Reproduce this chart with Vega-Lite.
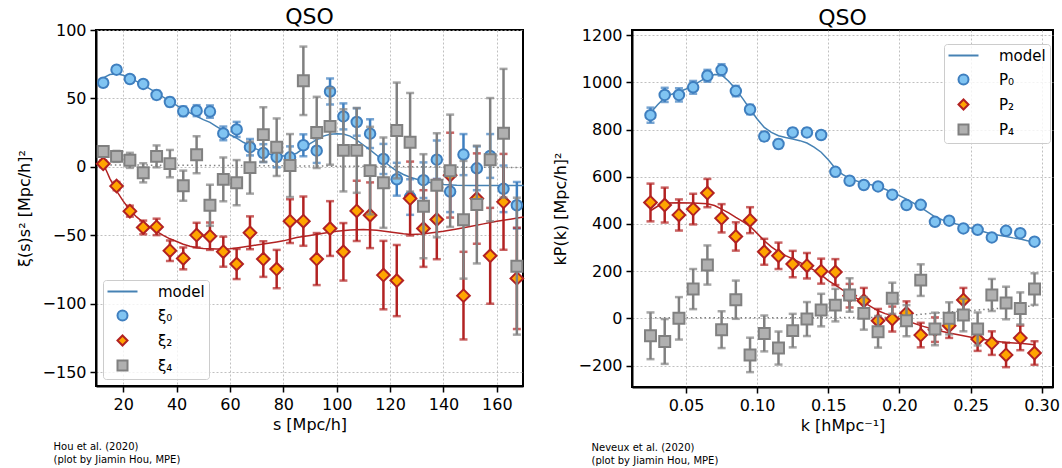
{
  "$schema": "https://vega.github.io/schema/vega-lite/v6.json",
  "padding": {"left": 15, "top": 5, "right": 5, "bottom": 5},
  "background": "white",
  "spacing": 22,
  "datasets": {
    "xi0": [
      {"s": 12.5, "v": 61.5, "e": 2.5, "series": "ξ₀"},
      {"s": 17.5, "v": 71, "e": 2.5, "series": "ξ₀"},
      {"s": 22.5, "v": 64.2, "e": 2.5, "series": "ξ₀"},
      {"s": 27.5, "v": 60.6, "e": 2.5, "series": "ξ₀"},
      {"s": 32.5, "v": 52.6, "e": 3, "series": "ξ₀"},
      {"s": 37.5, "v": 47.4, "e": 3, "series": "ξ₀"},
      {"s": 42.5, "v": 40.6, "e": 3.5, "series": "ξ₀"},
      {"s": 47.5, "v": 41.1, "e": 4, "series": "ξ₀"},
      {"s": 52.5, "v": 40.4, "e": 4.5, "series": "ξ₀"},
      {"s": 57.5, "v": 24.5, "e": 5, "series": "ξ₀"},
      {"s": 62.5, "v": 27.4, "e": 5.5, "series": "ξ₀"},
      {"s": 67.5, "v": 14.4, "e": 6, "series": "ξ₀"},
      {"s": 72.5, "v": 10.1, "e": 6.5, "series": "ξ₀"},
      {"s": 77.5, "v": 7.2, "e": 7.5, "series": "ξ₀"},
      {"s": 82.5, "v": 7, "e": 8, "series": "ξ₀"},
      {"s": 87.5, "v": 15.8, "e": 8, "series": "ξ₀"},
      {"s": 92.5, "v": 11.9, "e": 9, "series": "ξ₀"},
      {"s": 97.5, "v": 55.1, "e": 9.5, "series": "ξ₀"},
      {"s": 102.5, "v": 36.9, "e": 9.5, "series": "ξ₀"},
      {"s": 107.5, "v": 32.8, "e": 10, "series": "ξ₀"},
      {"s": 112.5, "v": 24.3, "e": 10.5, "series": "ξ₀"},
      {"s": 117.5, "v": 5.8, "e": 11, "series": "ξ₀"},
      {"s": 122.5, "v": -9, "e": 12, "series": "ξ₀"},
      {"s": 127.5, "v": -22, "e": 13, "series": "ξ₀"},
      {"s": 132.5, "v": -9.7, "e": 13, "series": "ξ₀"},
      {"s": 137.5, "v": 5.3, "e": 14, "series": "ξ₀"},
      {"s": 142.5, "v": -18, "e": 15, "series": "ξ₀"},
      {"s": 147.5, "v": 9, "e": 15, "series": "ξ₀"},
      {"s": 152.5, "v": -1, "e": 16, "series": "ξ₀"},
      {"s": 157.5, "v": 8, "e": 16, "series": "ξ₀"},
      {"s": 162.5, "v": -16, "e": 17, "series": "ξ₀"},
      {"s": 167.5, "v": -28, "e": 17, "series": "ξ₀"}
    ],
    "xi2": [
      {"s": 12.5, "v": 2.3, "e": 2.5, "series": "ξ₂"},
      {"s": 17.5, "v": -14, "e": 3, "series": "ξ₂"},
      {"s": 22.5, "v": -32.3, "e": 4, "series": "ξ₂"},
      {"s": 27.5, "v": -44.2, "e": 5, "series": "ξ₂"},
      {"s": 32.5, "v": -43.8, "e": 6, "series": "ξ₂"},
      {"s": 37.5, "v": -61.2, "e": 7.5, "series": "ξ₂"},
      {"s": 42.5, "v": -66.8, "e": 8, "series": "ξ₂"},
      {"s": 47.5, "v": -49.8, "e": 9, "series": "ξ₂"},
      {"s": 52.5, "v": -50.6, "e": 10, "series": "ξ₂"},
      {"s": 57.5, "v": -61.9, "e": 11, "series": "ξ₂"},
      {"s": 62.5, "v": -70.9, "e": 11, "series": "ξ₂"},
      {"s": 67.5, "v": -48.1, "e": 12, "series": "ξ₂"},
      {"s": 72.5, "v": -67.3, "e": 13, "series": "ξ₂"},
      {"s": 77.5, "v": -74.6, "e": 14, "series": "ξ₂"},
      {"s": 82.5, "v": -39.6, "e": 16, "series": "ξ₂"},
      {"s": 87.5, "v": -39.6, "e": 18, "series": "ξ₂"},
      {"s": 92.5, "v": -67.3, "e": 19, "series": "ξ₂"},
      {"s": 97.5, "v": -45, "e": 20, "series": "ξ₂"},
      {"s": 102.5, "v": -62, "e": 21, "series": "ξ₂"},
      {"s": 107.5, "v": -32.1, "e": 22, "series": "ξ₂"},
      {"s": 112.5, "v": -35.3, "e": 24, "series": "ξ₂"},
      {"s": 117.5, "v": -79, "e": 25, "series": "ξ₂"},
      {"s": 122.5, "v": -83, "e": 26, "series": "ξ₂"},
      {"s": 127.5, "v": -23.1, "e": 27, "series": "ξ₂"},
      {"s": 132.5, "v": -45, "e": 28, "series": "ξ₂"},
      {"s": 137.5, "v": -38.4, "e": 29, "series": "ξ₂"},
      {"s": 142.5, "v": -6, "e": 31, "series": "ξ₂"},
      {"s": 147.5, "v": -94, "e": 32, "series": "ξ₂"},
      {"s": 152.5, "v": -23.1, "e": 33, "series": "ξ₂"},
      {"s": 157.5, "v": -64.9, "e": 35, "series": "ξ₂"},
      {"s": 162.5, "v": -25.5, "e": 35, "series": "ξ₂"},
      {"s": 167.5, "v": -81.4, "e": 37, "series": "ξ₂"}
    ],
    "xi4": [
      {"s": 12.5, "v": 11.3, "e": 3, "series": "ξ₄"},
      {"s": 17.5, "v": 7.7, "e": 4, "series": "ξ₄"},
      {"s": 22.5, "v": 4.8, "e": 5.5, "series": "ξ₄"},
      {"s": 27.5, "v": -4.3, "e": 7, "series": "ξ₄"},
      {"s": 32.5, "v": 7.7, "e": 8, "series": "ξ₄"},
      {"s": 37.5, "v": 2.4, "e": 10, "series": "ξ₄"},
      {"s": 42.5, "v": -13.7, "e": 11, "series": "ξ₄"},
      {"s": 47.5, "v": 8.9, "e": 13.5, "series": "ξ₄"},
      {"s": 52.5, "v": -28, "e": 15, "series": "ξ₄"},
      {"s": 57.5, "v": -9.1, "e": 16, "series": "ξ₄"},
      {"s": 62.5, "v": -11.5, "e": 16.5, "series": "ξ₄"},
      {"s": 67.5, "v": -0.5, "e": 19, "series": "ξ₄"},
      {"s": 72.5, "v": 23.6, "e": 20, "series": "ξ₄"},
      {"s": 77.5, "v": 14.4, "e": 21, "series": "ξ₄"},
      {"s": 82.5, "v": 1, "e": 23, "series": "ξ₄"},
      {"s": 87.5, "v": 62.9, "e": 25, "series": "ξ₄"},
      {"s": 92.5, "v": 25.2, "e": 26, "series": "ξ₄"},
      {"s": 97.5, "v": 29.6, "e": 28, "series": "ξ₄"},
      {"s": 102.5, "v": 12.1, "e": 30, "series": "ξ₄"},
      {"s": 107.5, "v": 12.1, "e": 31, "series": "ξ₄"},
      {"s": 112.5, "v": -2.7, "e": 32, "series": "ξ₄"},
      {"s": 117.5, "v": -11.5, "e": 33, "series": "ξ₄"},
      {"s": 122.5, "v": 26.6, "e": 35, "series": "ξ₄"},
      {"s": 127.5, "v": 18, "e": 36, "series": "ξ₄"},
      {"s": 132.5, "v": -28.7, "e": 38, "series": "ξ₄"},
      {"s": 137.5, "v": -13.4, "e": 38, "series": "ξ₄"},
      {"s": 142.5, "v": -2.8, "e": 41, "series": "ξ₄"},
      {"s": 147.5, "v": -38.6, "e": 43, "series": "ξ₄"},
      {"s": 152.5, "v": -27.5, "e": 43, "series": "ξ₄"},
      {"s": 157.5, "v": 5.3, "e": 45, "series": "ξ₄"},
      {"s": 162.5, "v": 24.6, "e": 47, "series": "ξ₄"},
      {"s": 167.5, "v": -72.5, "e": 50, "series": "ξ₄"}
    ],
    "xi0model": [
      {"s": 12.5, "v": 65}, {"s": 15, "v": 67.5}, {"s": 17.5, "v": 68}, {"s": 20, "v": 67}, {"s": 22.5, "v": 65},
      {"s": 25, "v": 62.5}, {"s": 27.5, "v": 60}, {"s": 30, "v": 57}, {"s": 32.5, "v": 54}, {"s": 35, "v": 51},
      {"s": 37.5, "v": 48}, {"s": 40, "v": 45}, {"s": 42.5, "v": 42}, {"s": 45, "v": 39.5}, {"s": 47.5, "v": 37},
      {"s": 50, "v": 34.5}, {"s": 52.5, "v": 32.5}, {"s": 55, "v": 29.5}, {"s": 57.5, "v": 26.5}, {"s": 60, "v": 23.5},
      {"s": 62.5, "v": 21}, {"s": 65, "v": 18}, {"s": 67.5, "v": 15.5}, {"s": 70, "v": 13}, {"s": 72.5, "v": 10.8},
      {"s": 75, "v": 9.3}, {"s": 77.5, "v": 8.4}, {"s": 80, "v": 8}, {"s": 82.5, "v": 8.3}, {"s": 85, "v": 10},
      {"s": 87.5, "v": 13.5}, {"s": 90, "v": 17}, {"s": 92.5, "v": 20}, {"s": 95, "v": 22.5}, {"s": 97.5, "v": 23.8},
      {"s": 100, "v": 24.3}, {"s": 102.5, "v": 24}, {"s": 105, "v": 22.5}, {"s": 107.5, "v": 19.5}, {"s": 110, "v": 16},
      {"s": 112.5, "v": 12.5}, {"s": 115, "v": 8.5}, {"s": 117.5, "v": 4.5}, {"s": 120, "v": 0.5}, {"s": 122.5, "v": -3},
      {"s": 125, "v": -5.5}, {"s": 127.5, "v": -7.5}, {"s": 130, "v": -9}, {"s": 132.5, "v": -10.4}, {"s": 135, "v": -11.4},
      {"s": 137.5, "v": -12.2}, {"s": 140, "v": -12.8}, {"s": 145, "v": -13.3}, {"s": 150, "v": -13.5}, {"s": 160, "v": -13.6},
      {"s": 170, "v": -13.6}
    ],
    "xi2model": [
      {"s": 12.5, "v": 2}, {"s": 13.75, "v": -3}, {"s": 15, "v": -8.5}, {"s": 16.25, "v": -13}, {"s": 17.5, "v": -17.5},
      {"s": 20, "v": -25}, {"s": 22.5, "v": -31.5}, {"s": 25, "v": -36.5}, {"s": 27.5, "v": -40.5}, {"s": 30, "v": -44},
      {"s": 32.5, "v": -47}, {"s": 35, "v": -50}, {"s": 37.5, "v": -52.5}, {"s": 40, "v": -54.5}, {"s": 42.5, "v": -56.5},
      {"s": 45, "v": -58}, {"s": 47.5, "v": -59}, {"s": 50, "v": -59.5}, {"s": 52.5, "v": -59.7}, {"s": 55, "v": -60},
      {"s": 57.5, "v": -60}, {"s": 60, "v": -59.8}, {"s": 62.5, "v": -59.2}, {"s": 65, "v": -58.5}, {"s": 67.5, "v": -57.8},
      {"s": 70, "v": -57}, {"s": 72.5, "v": -56.3}, {"s": 75, "v": -55.5}, {"s": 77.5, "v": -54.8}, {"s": 80, "v": -54},
      {"s": 85, "v": -51.5}, {"s": 90, "v": -50}, {"s": 95, "v": -48.5}, {"s": 100, "v": -47}, {"s": 105, "v": -46},
      {"s": 110, "v": -45.7}, {"s": 115, "v": -46.3}, {"s": 120, "v": -47.5}, {"s": 125, "v": -48.8}, {"s": 128, "v": -49.3},
      {"s": 132, "v": -49}, {"s": 135, "v": -48.3}, {"s": 140, "v": -47}, {"s": 145, "v": -45.3}, {"s": 150, "v": -43.5},
      {"s": 155, "v": -41.6}, {"s": 160, "v": -39.7}, {"s": 165, "v": -38.2}, {"s": 170, "v": -36.5}
    ],
    "xi4model": [
      {"s": 13.5, "v": 1.5}, {"s": 40, "v": 1.2}, {"s": 80, "v": 0.8}, {"s": 120, "v": 0.3}, {"s": 170, "v": -0.5}
    ],
    "p0": [
      {"k": 0.025, "v": 861, "e": 32, "series": "P₀"},
      {"k": 0.035, "v": 947, "e": 30, "series": "P₀"},
      {"k": 0.045, "v": 947, "e": 28, "series": "P₀"},
      {"k": 0.055, "v": 979, "e": 27, "series": "P₀"},
      {"k": 0.065, "v": 1028, "e": 25, "series": "P₀"},
      {"k": 0.075, "v": 1053, "e": 24, "series": "P₀"},
      {"k": 0.085, "v": 963, "e": 22, "series": "P₀"},
      {"k": 0.095, "v": 885, "e": 20, "series": "P₀"},
      {"k": 0.105, "v": 771, "e": 18, "series": "P₀"},
      {"k": 0.115, "v": 739, "e": 17, "series": "P₀"},
      {"k": 0.125, "v": 788, "e": 16, "series": "P₀"},
      {"k": 0.135, "v": 788, "e": 16, "series": "P₀"},
      {"k": 0.145, "v": 777, "e": 15, "series": "P₀"},
      {"k": 0.155, "v": 621, "e": 14, "series": "P₀"},
      {"k": 0.165, "v": 583, "e": 14, "series": "P₀"},
      {"k": 0.175, "v": 565, "e": 13, "series": "P₀"},
      {"k": 0.185, "v": 559, "e": 13, "series": "P₀"},
      {"k": 0.195, "v": 524, "e": 12, "series": "P₀"},
      {"k": 0.205, "v": 480, "e": 12, "series": "P₀"},
      {"k": 0.215, "v": 481, "e": 12, "series": "P₀"},
      {"k": 0.225, "v": 409, "e": 11, "series": "P₀"},
      {"k": 0.235, "v": 414, "e": 11, "series": "P₀"},
      {"k": 0.245, "v": 381, "e": 11, "series": "P₀"},
      {"k": 0.255, "v": 375, "e": 10, "series": "P₀"},
      {"k": 0.265, "v": 343, "e": 10, "series": "P₀"},
      {"k": 0.275, "v": 371, "e": 10, "series": "P₀"},
      {"k": 0.285, "v": 361, "e": 10, "series": "P₀"},
      {"k": 0.295, "v": 325, "e": 10, "series": "P₀"}
    ],
    "p2": [
      {"k": 0.025, "v": 491, "e": 80, "series": "P₂"},
      {"k": 0.035, "v": 480, "e": 74, "series": "P₂"},
      {"k": 0.045, "v": 438, "e": 66, "series": "P₂"},
      {"k": 0.055, "v": 463, "e": 65, "series": "P₂"},
      {"k": 0.065, "v": 531, "e": 60, "series": "P₂"},
      {"k": 0.075, "v": 424, "e": 60, "series": "P₂"},
      {"k": 0.085, "v": 347, "e": 60, "series": "P₂"},
      {"k": 0.095, "v": 416, "e": 55, "series": "P₂"},
      {"k": 0.105, "v": 282, "e": 55, "series": "P₂"},
      {"k": 0.115, "v": 265, "e": 56, "series": "P₂"},
      {"k": 0.125, "v": 230, "e": 56, "series": "P₂"},
      {"k": 0.135, "v": 223, "e": 54, "series": "P₂"},
      {"k": 0.145, "v": 200, "e": 53, "series": "P₂"},
      {"k": 0.155, "v": 196, "e": 55, "series": "P₂"},
      {"k": 0.165, "v": 96, "e": 50, "series": "P₂"},
      {"k": 0.175, "v": 75, "e": 54, "series": "P₂"},
      {"k": 0.185, "v": -10, "e": 50, "series": "P₂"},
      {"k": 0.195, "v": -3, "e": 53, "series": "P₂"},
      {"k": 0.205, "v": 22, "e": 50, "series": "P₂"},
      {"k": 0.215, "v": -71, "e": 52, "series": "P₂"},
      {"k": 0.225, "v": -48, "e": 52, "series": "P₂"},
      {"k": 0.235, "v": -31, "e": 52, "series": "P₂"},
      {"k": 0.245, "v": 78, "e": 51, "series": "P₂"},
      {"k": 0.255, "v": -88, "e": 50, "series": "P₂"},
      {"k": 0.265, "v": -105, "e": 50, "series": "P₂"},
      {"k": 0.275, "v": -155, "e": 52, "series": "P₂"},
      {"k": 0.285, "v": -83, "e": 52, "series": "P₂"},
      {"k": 0.295, "v": -147, "e": 50, "series": "P₂"}
    ],
    "p4": [
      {"k": 0.025, "v": -74, "e": 99, "series": "P₄"},
      {"k": 0.035, "v": -98, "e": 95, "series": "P₄"},
      {"k": 0.045, "v": 0, "e": 90, "series": "P₄"},
      {"k": 0.055, "v": 124, "e": 85, "series": "P₄"},
      {"k": 0.065, "v": 226, "e": 83, "series": "P₄"},
      {"k": 0.075, "v": -48, "e": 78, "series": "P₄"},
      {"k": 0.085, "v": 79, "e": 81, "series": "P₄"},
      {"k": 0.095, "v": -155, "e": 73, "series": "P₄"},
      {"k": 0.105, "v": -64, "e": 76, "series": "P₄"},
      {"k": 0.115, "v": -126, "e": 70, "series": "P₄"},
      {"k": 0.125, "v": -52, "e": 71, "series": "P₄"},
      {"k": 0.135, "v": -3, "e": 72, "series": "P₄"},
      {"k": 0.145, "v": 35, "e": 69, "series": "P₄"},
      {"k": 0.155, "v": 56, "e": 69, "series": "P₄"},
      {"k": 0.165, "v": 99, "e": 71, "series": "P₄"},
      {"k": 0.175, "v": 21, "e": 69, "series": "P₄"},
      {"k": 0.185, "v": -57, "e": 67, "series": "P₄"},
      {"k": 0.195, "v": 85, "e": 66, "series": "P₄"},
      {"k": 0.205, "v": -10, "e": 66, "series": "P₄"},
      {"k": 0.215, "v": 162, "e": 67, "series": "P₄"},
      {"k": 0.225, "v": -45, "e": 69, "series": "P₄"},
      {"k": 0.235, "v": 0, "e": 68, "series": "P₄"},
      {"k": 0.245, "v": 14, "e": 69, "series": "P₄"},
      {"k": 0.255, "v": -45, "e": 70, "series": "P₄"},
      {"k": 0.265, "v": 99, "e": 68, "series": "P₄"},
      {"k": 0.275, "v": 65, "e": 69, "series": "P₄"},
      {"k": 0.285, "v": 42, "e": 68, "series": "P₄"},
      {"k": 0.295, "v": 124, "e": 67, "series": "P₄"}
    ],
    "p0model": [
      {"k": 0.025, "v": 870}, {"k": 0.03, "v": 905}, {"k": 0.035, "v": 935}, {"k": 0.04, "v": 950}, {"k": 0.045, "v": 960},
      {"k": 0.05, "v": 972}, {"k": 0.055, "v": 986}, {"k": 0.06, "v": 1005}, {"k": 0.065, "v": 1022}, {"k": 0.07, "v": 1033},
      {"k": 0.075, "v": 1032}, {"k": 0.08, "v": 1005}, {"k": 0.085, "v": 971}, {"k": 0.09, "v": 930}, {"k": 0.095, "v": 886},
      {"k": 0.1, "v": 845}, {"k": 0.105, "v": 809}, {"k": 0.11, "v": 788}, {"k": 0.115, "v": 774}, {"k": 0.12, "v": 766},
      {"k": 0.125, "v": 760}, {"k": 0.13, "v": 753}, {"k": 0.135, "v": 743}, {"k": 0.14, "v": 726}, {"k": 0.145, "v": 704},
      {"k": 0.15, "v": 672}, {"k": 0.155, "v": 635}, {"k": 0.16, "v": 610}, {"k": 0.165, "v": 593}, {"k": 0.17, "v": 582},
      {"k": 0.175, "v": 573}, {"k": 0.18, "v": 566}, {"k": 0.185, "v": 559}, {"k": 0.19, "v": 547}, {"k": 0.195, "v": 534},
      {"k": 0.2, "v": 520}, {"k": 0.205, "v": 505}, {"k": 0.21, "v": 488}, {"k": 0.215, "v": 470}, {"k": 0.22, "v": 450},
      {"k": 0.225, "v": 430}, {"k": 0.23, "v": 418}, {"k": 0.235, "v": 409}, {"k": 0.24, "v": 400}, {"k": 0.245, "v": 392},
      {"k": 0.25, "v": 383}, {"k": 0.255, "v": 375}, {"k": 0.26, "v": 366}, {"k": 0.265, "v": 357}, {"k": 0.27, "v": 352},
      {"k": 0.275, "v": 347}, {"k": 0.28, "v": 341}, {"k": 0.285, "v": 336}, {"k": 0.29, "v": 329}, {"k": 0.295, "v": 322}
    ],
    "p2model": [
      {"k": 0.025, "v": 456}, {"k": 0.03, "v": 475}, {"k": 0.035, "v": 489}, {"k": 0.045, "v": 490}, {"k": 0.055, "v": 489},
      {"k": 0.065, "v": 486}, {"k": 0.07, "v": 478}, {"k": 0.075, "v": 463}, {"k": 0.08, "v": 447}, {"k": 0.085, "v": 428},
      {"k": 0.09, "v": 410}, {"k": 0.095, "v": 390}, {"k": 0.1, "v": 360}, {"k": 0.105, "v": 329}, {"k": 0.11, "v": 303},
      {"k": 0.115, "v": 282}, {"k": 0.12, "v": 266}, {"k": 0.125, "v": 252}, {"k": 0.13, "v": 237}, {"k": 0.135, "v": 221},
      {"k": 0.14, "v": 204}, {"k": 0.145, "v": 184}, {"k": 0.15, "v": 160}, {"k": 0.155, "v": 141}, {"k": 0.16, "v": 121},
      {"k": 0.165, "v": 103}, {"k": 0.17, "v": 85}, {"k": 0.175, "v": 68}, {"k": 0.18, "v": 50}, {"k": 0.185, "v": 32},
      {"k": 0.19, "v": 20}, {"k": 0.195, "v": 11}, {"k": 0.2, "v": 0}, {"k": 0.205, "v": -10}, {"k": 0.215, "v": -31},
      {"k": 0.225, "v": -48}, {"k": 0.235, "v": -62}, {"k": 0.245, "v": -74}, {"k": 0.255, "v": -85}, {"k": 0.265, "v": -95},
      {"k": 0.275, "v": -102}, {"k": 0.285, "v": -106}, {"k": 0.295, "v": -112}
    ],
    "p4model": [
      {"k": 0.025, "v": 3}, {"k": 0.1, "v": 3}, {"k": 0.15, "v": 3}, {"k": 0.19, "v": 4}, {"k": 0.2, "v": 8},
      {"k": 0.21, "v": 14}, {"k": 0.22, "v": 20}, {"k": 0.245, "v": 31}, {"k": 0.27, "v": 42}, {"k": 0.295, "v": 53}
    ]
  },
  "hconcat": [
    {
      "width": 427,
      "height": 356,
      "title": {"text": "QSO", "offset": -7},
      "resolve": {"axis": {"x": "independent"}},
      "layer": [
        {
          "data": {"name": "xi4model"},
          "mark": {"type": "line", "color": "#808080", "strokeDash": [1.5, 3], "strokeWidth": 1.5},
          "encoding": {
            "x": {"field": "s", "type": "quantitative", "scale": {"domain": [9.8, 169.8], "nice": false, "zero": false},
              "axis": {"orient": "bottom", "title": ["Hou et al. (2020)", "(plot by Jiamin Hou, MPE)"], "labels": false, "ticks": false, "domain": false, "grid": false,
                "titleX": -43, "titleY": 55, "titleAlign": "left", "titleBaseline": "top", "titleAngle": 0, "titleFontSize": 10, "titleLineHeight": 13}},
            "y": {"field": "v", "type": "quantitative", "scale": {"domain": [-160, 100], "nice": false, "zero": false},
              "axis": {"title": "ξ(s)s² [Mpc/h]²", "values": [-150, -100, -50, 0, 50, 100], "titlePadding": 10, "grid": true}}
          }
        },
        {
          "encoding": {
            "x": {"field": "s", "type": "quantitative", "scale": {"domain": [9.8, 169.8], "nice": false, "zero": false},
              "axis": {"orient": "bottom", "title": "s [Mpc/h]", "values": [20, 40, 60, 80, 100, 120, 140, 160], "titlePadding": 4, "grid": true}},
            "y": {"field": "v", "type": "quantitative", "scale": {"domain": [-160, 100], "nice": false, "zero": false},
              "axis": {"title": "ξ(s)s² [Mpc/h]²", "values": [-150, -100, -50, 0, 50, 100], "titlePadding": 10, "grid": true}}
          },
          "layer": [
            {"data": {"name": "xi0model"}, "mark": {"type": "line", "color": "#4682b4", "strokeWidth": 1.5}},
            {"data": {"name": "xi2model"}, "mark": {"type": "line", "color": "#b22222", "strokeWidth": 1.5}},
            {"data": {"name": "xi0"}, "mark": {"type": "errorbar", "color": "#3f7fbf", "thickness": 2.5, "ticks": {"size": 8, "thickness": 2.5, "color": "#3f7fbf"}}, "encoding": {"yError": {"field": "e"}}},
            {"data": {"name": "xi0"}, "mark": {"type": "point", "opacity": 1, "strokeWidth": 2, "size": 110},
              "encoding": {
                "shape": {"field": "series", "type": "nominal", "scale": {"domain": ["model", "ξ₀", "ξ₂", "ξ₄"], "range": ["M-3,0H3", "circle", "diamond", "square"]}, "legend": {"orient": "bottom-left", "title": null}},
                "fill": {"field": "series", "type": "nominal", "scale": {"domain": ["model", "ξ₀", "ξ₂", "ξ₄"], "range": ["transparent", "#80c4f2", "#ffa500", "#b0b0b0"]}, "legend": {"title": null}},
                "stroke": {"field": "series", "type": "nominal", "scale": {"domain": ["model", "ξ₀", "ξ₂", "ξ₄"], "range": ["#4682b4", "#3f7fbf", "#b22222", "#808080"]}, "legend": {"title": null}}
              }},
            {"data": {"name": "xi2"}, "mark": {"type": "errorbar", "color": "#b22222", "thickness": 2.5, "ticks": {"size": 8, "thickness": 2.5, "color": "#b22222"}}, "encoding": {"yError": {"field": "e"}}},
            {"data": {"name": "xi2"}, "mark": {"type": "point", "opacity": 1, "strokeWidth": 2, "size": 160},
              "encoding": {
                "shape": {"field": "series", "type": "nominal", "scale": {"domain": ["model", "ξ₀", "ξ₂", "ξ₄"], "range": ["M-3,0H3", "circle", "diamond", "square"]}, "legend": {"orient": "bottom-left", "title": null}},
                "fill": {"field": "series", "type": "nominal", "scale": {"domain": ["model", "ξ₀", "ξ₂", "ξ₄"], "range": ["transparent", "#80c4f2", "#ffa500", "#b0b0b0"]}, "legend": {"title": null}},
                "stroke": {"field": "series", "type": "nominal", "scale": {"domain": ["model", "ξ₀", "ξ₂", "ξ₄"], "range": ["#4682b4", "#3f7fbf", "#b22222", "#808080"]}, "legend": {"title": null}}
              }},
            {"data": {"name": "xi4"}, "mark": {"type": "errorbar", "color": "#808080", "thickness": 2.5, "ticks": {"size": 8, "thickness": 2.5, "color": "#808080"}}, "encoding": {"yError": {"field": "e"}}},
            {"data": {"name": "xi4"}, "mark": {"type": "point", "opacity": 1, "strokeWidth": 2, "size": 120},
              "encoding": {
                "shape": {"field": "series", "type": "nominal", "scale": {"domain": ["model", "ξ₀", "ξ₂", "ξ₄"], "range": ["M-3,0H3", "circle", "diamond", "square"]}, "legend": {"orient": "bottom-left", "title": null}},
                "fill": {"field": "series", "type": "nominal", "scale": {"domain": ["model", "ξ₀", "ξ₂", "ξ₄"], "range": ["transparent", "#80c4f2", "#ffa500", "#b0b0b0"]}, "legend": {"title": null}},
                "stroke": {"field": "series", "type": "nominal", "scale": {"domain": ["model", "ξ₀", "ξ₂", "ξ₄"], "range": ["#4682b4", "#3f7fbf", "#b22222", "#808080"]}, "legend": {"title": null}}
              }}
          ]
        }
      ]
    },
    {
      "width": 421,
      "height": 357,
      "title": {"text": "QSO", "offset": -3},
      "resolve": {"axis": {"x": "independent"}},
      "layer": [
        {
          "data": {"name": "p4model"},
          "mark": {"type": "line", "color": "#808080", "strokeDash": [1.5, 3], "strokeWidth": 1.5},
          "encoding": {
            "x": {"field": "k", "type": "quantitative", "scale": {"domain": [0.012, 0.308], "nice": false, "zero": false},
              "axis": {"orient": "bottom", "title": ["Neveux et al. (2020)", "(plot by Jiamin Hou, MPE)"], "labels": false, "ticks": false, "domain": false, "grid": false,
                "titleX": -41, "titleY": 55, "titleAlign": "left", "titleBaseline": "top", "titleAngle": 0, "titleFontSize": 10, "titleLineHeight": 13}},
            "y": {"field": "v", "type": "quantitative", "scale": {"domain": [-291, 1222], "nice": false, "zero": false},
              "axis": {"title": "kP(k) [Mpc/h]²", "values": [-200, 0, 200, 400, 600, 800, 1000, 1200], "format": "d", "titlePadding": 10, "grid": true}}
          }
        },
        {
          "encoding": {
            "x": {"field": "k", "type": "quantitative", "scale": {"domain": [0.012, 0.308], "nice": false, "zero": false},
              "axis": {"orient": "bottom", "title": "k [hMpc⁻¹]", "values": [0.05, 0.1, 0.15, 0.2, 0.25, 0.3], "format": ".2f", "titlePadding": 4, "grid": true}},
            "y": {"field": "v", "type": "quantitative", "scale": {"domain": [-291, 1222], "nice": false, "zero": false},
              "axis": {"title": "kP(k) [Mpc/h]²", "values": [-200, 0, 200, 400, 600, 800, 1000, 1200], "format": "d", "titlePadding": 10, "grid": true}}
          },
          "layer": [
            {"data": {"name": "p0model"}, "mark": {"type": "line", "color": "#4682b4", "strokeWidth": 1.5}},
            {"data": {"name": "p2model"}, "mark": {"type": "line", "color": "#b22222", "strokeWidth": 1.5}},
            {"data": {"name": "p0"}, "mark": {"type": "errorbar", "color": "#3f7fbf", "thickness": 2.5, "ticks": {"size": 8, "thickness": 2.5, "color": "#3f7fbf"}}, "encoding": {"yError": {"field": "e"}}},
            {"data": {"name": "p0"}, "mark": {"type": "point", "opacity": 1, "strokeWidth": 2, "size": 110},
              "encoding": {
                "shape": {"field": "series", "type": "nominal", "scale": {"domain": ["model", "P₀", "P₂", "P₄"], "range": ["M-3,0H3", "circle", "diamond", "square"]}, "legend": {"orient": "none", "legendX": 312, "legendY": 14, "title": null}},
                "fill": {"field": "series", "type": "nominal", "scale": {"domain": ["model", "P₀", "P₂", "P₄"], "range": ["transparent", "#80c4f2", "#ffa500", "#b0b0b0"]}, "legend": {"title": null}},
                "stroke": {"field": "series", "type": "nominal", "scale": {"domain": ["model", "P₀", "P₂", "P₄"], "range": ["#4682b4", "#3f7fbf", "#b22222", "#808080"]}, "legend": {"title": null}}
              }},
            {"data": {"name": "p2"}, "mark": {"type": "errorbar", "color": "#b22222", "thickness": 2.5, "ticks": {"size": 8, "thickness": 2.5, "color": "#b22222"}}, "encoding": {"yError": {"field": "e"}}},
            {"data": {"name": "p2"}, "mark": {"type": "point", "opacity": 1, "strokeWidth": 2, "size": 160},
              "encoding": {
                "shape": {"field": "series", "type": "nominal", "scale": {"domain": ["model", "P₀", "P₂", "P₄"], "range": ["M-3,0H3", "circle", "diamond", "square"]}, "legend": {"orient": "none", "legendX": 312, "legendY": 14, "title": null}},
                "fill": {"field": "series", "type": "nominal", "scale": {"domain": ["model", "P₀", "P₂", "P₄"], "range": ["transparent", "#80c4f2", "#ffa500", "#b0b0b0"]}, "legend": {"title": null}},
                "stroke": {"field": "series", "type": "nominal", "scale": {"domain": ["model", "P₀", "P₂", "P₄"], "range": ["#4682b4", "#3f7fbf", "#b22222", "#808080"]}, "legend": {"title": null}}
              }},
            {"data": {"name": "p4"}, "mark": {"type": "errorbar", "color": "#808080", "thickness": 2.5, "ticks": {"size": 8, "thickness": 2.5, "color": "#808080"}}, "encoding": {"yError": {"field": "e"}}},
            {"data": {"name": "p4"}, "mark": {"type": "point", "opacity": 1, "strokeWidth": 2, "size": 120},
              "encoding": {
                "shape": {"field": "series", "type": "nominal", "scale": {"domain": ["model", "P₀", "P₂", "P₄"], "range": ["M-3,0H3", "circle", "diamond", "square"]}, "legend": {"orient": "none", "legendX": 312, "legendY": 14, "title": null}},
                "fill": {"field": "series", "type": "nominal", "scale": {"domain": ["model", "P₀", "P₂", "P₄"], "range": ["transparent", "#80c4f2", "#ffa500", "#b0b0b0"]}, "legend": {"title": null}},
                "stroke": {"field": "series", "type": "nominal", "scale": {"domain": ["model", "P₀", "P₂", "P₄"], "range": ["#4682b4", "#3f7fbf", "#b22222", "#808080"]}, "legend": {"title": null}}
              }}
          ]
        }
      ]
    }
  ],
  "resolve": {
    "scale": {"shape": "independent", "fill": "independent", "stroke": "independent", "color": "independent"},
    "legend": {"shape": "independent", "fill": "independent", "stroke": "independent"}
  },
  "config": {
    "font": "DejaVu Sans",
    "view": {"stroke": "black", "strokeWidth": 2},
    "axis": {
      "domainColor": "black", "domainWidth": 2, "tickColor": "black", "tickWidth": 1.5, "tickSize": 6,
      "labelFontSize": 16, "labelColor": "black", "labelFont": "DejaVu Sans", "labelPadding": 4,
      "titleFontSize": 16, "titleFontWeight": "normal", "titleColor": "black", "titleFont": "DejaVu Sans",
      "gridColor": "#b0b0b0", "gridDash": [2, 2], "gridWidth": 0.8, "gridOpacity": 1
    },
    "title": {"fontSize": 22, "fontWeight": "normal", "color": "black", "font": "DejaVu Sans"},
    "legend": {
      "padding": 4, "cornerRadius": 3, "strokeColor": "#cccccc", "fillColor": "rgba(255,255,255,0.8)",
      "labelFontSize": 15, "labelFont": "DejaVu Sans", "labelColor": "black", "rowPadding": 6, "symbolStrokeWidth": 2,
      "symbolSize": 100, "symbolOffset": 8, "labelOffset": 28, "offset": 7
    }
  }
}
